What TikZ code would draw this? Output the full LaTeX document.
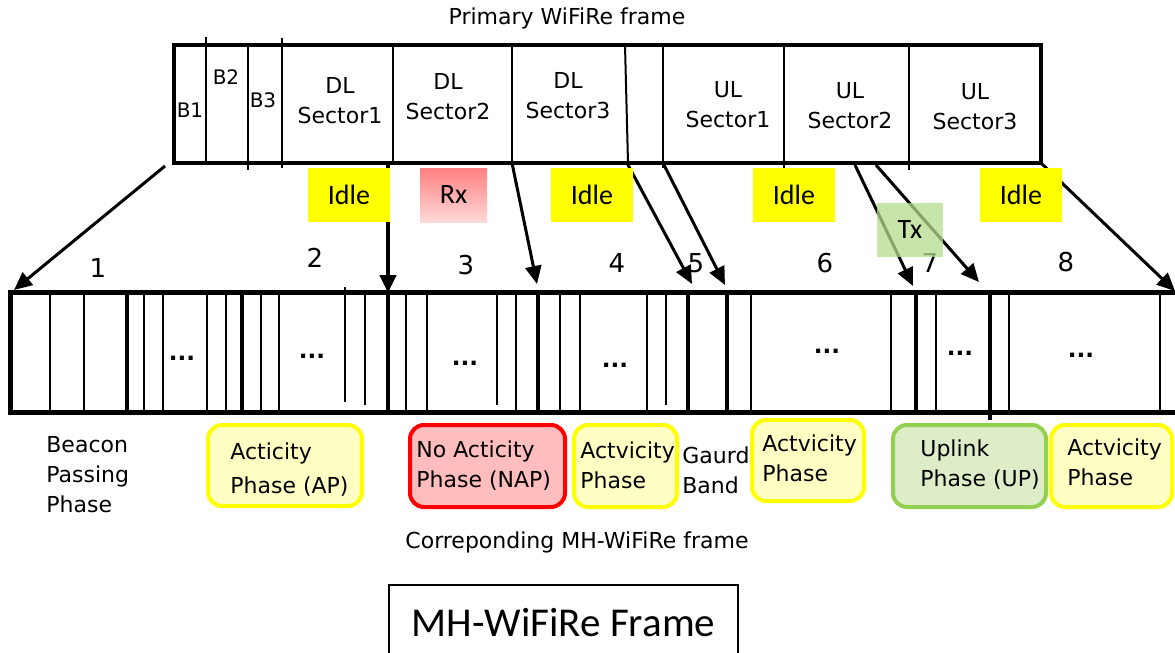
\documentclass[tikz,border=0pt]{standalone}
\usepackage{fontspec}
\setmainfont{DejaVu Sans}
\newfontfamily\carlito{Carlito}
\usetikzlibrary{arrows.meta}
\definecolor{idleyellow}{HTML}{FFFF00}
\definecolor{rxtop}{HTML}{FF8080}
\definecolor{rxbot}{HTML}{FFD8D8}
\definecolor{txgreen}{HTML}{B5DC8C}
\definecolor{upgreen}{HTML}{92D050}
\definecolor{apfill}{HTML}{FFFFC4}
\definecolor{napfill}{HTML}{FFBDBD}
\definecolor{upfill}{HTML}{DCEDC8}

\begin{document}
\begin{tikzpicture}[
  x=0.5pt, y=-0.5pt,
  txt/.style={font=\fontsize{11}{15}\selectfont, inner sep=0pt},
  sector/.style={txt, align=center},
  num/.style={font=\fontsize{13}{15}\selectfont, inner sep=0pt},
  dots/.style={font=\bfseries\fontsize{11.5}{13}\selectfont, inner sep=0pt},
  state/.style={minimum width=41pt, minimum height=27pt, inner sep=0pt,
    font=\carlito\fontsize{14}{16}\selectfont},
  idle/.style={state, fill=idleyellow},
  phase/.style={draw, line width=2pt, rounded corners=7pt, inner sep=0pt},
  phasetxt/.style={txt, align=left, anchor=west},
  arr/.style={-{Triangle[length=9pt,width=8pt]}, line width=1.5pt},
  thindiv/.style={line width=1pt},
  thickdiv/.style={line width=2.2pt}
]
  \useasboundingbox (0,0) rectangle (1175,653);

  % primary frame
  \node[txt] (title) at (567,18) {Primary WiFiRe frame};
  \draw[line width=2.2pt] (174,45) rectangle (1041,163);
  \foreach \x/\ya/\yb in {206/37/163, 248/45/170, 282/38/168, 393/45/165,
                          512/45/163, 663/45/168, 784/45/170, 909/45/170}
    \draw[thindiv] (\x,\ya) -- (\x,\yb);
  \draw[thindiv] (625,45) -- (628,163);

  \node[txt, font=\fontsize{10}{12}\selectfont] (b1) at (190,110) {B1};
  \node[txt, font=\fontsize{10}{12}\selectfont] (b2) at (226,77)  {B2};
  \node[txt, font=\fontsize{10}{12}\selectfont] (b3) at (263,100) {B3};
  \node[sector] (dl1) at (340,101) {DL\\Sector1};
  \node[sector] (dl2) at (448,97)  {DL\\Sector2};
  \node[sector] (dl3) at (568,96)  {DL\\Sector3};
  \node[sector] (ul1) at (728,105) {UL\\Sector1};
  \node[sector] (ul2) at (850,106) {UL\\Sector2};
  \node[sector] (ul3) at (975,107) {UL\\Sector3};

  % arrow ends
  \coordinate (s1) at (165,166);  \coordinate (e1) at (14,290);
  \coordinate (s2) at (388,163);  \coordinate (e2) at (388,293);
  \coordinate (s3) at (512,163);  \coordinate (e3) at (537,284);
  \coordinate (s4) at (627,163);  \coordinate (e4) at (692,284);
  \coordinate (s5) at (663,163);  \coordinate (e5) at (725,285);
  \coordinate (s6) at (855,165);  \coordinate (e6) at (913,286);
  \coordinate (s7) at (876,165);  \coordinate (e7) at (979,282);
  \coordinate (s8) at (1041,163); \coordinate (e8) at (1175,291);

  \draw[arr] (s1) -- (e1);
  \draw[arr, line width=2.2pt] (s2) -- (e2);
  \draw[arr] (s3) -- (e3);
  \draw[arr] (s4) -- (e4);
  \draw[arr] (s5) -- (e5);
  \draw[arr] (s6) -- (e6);
  \draw[arr] (s7) -- (e7);
  \draw[arr] (s8) -- (e8);

  % slot numbers
  \node[num] (n1) at (98,268)   {1};
  \node[num] (n2) at (315,258)  {2};
  \node[num] (n3) at (466,265)  {3};
  \node[num] (n4) at (617,263)  {4};
  \node[num] (n5) at (696,263)  {5};
  \node[num] (n6) at (825,263)  {6};
  \node[num] (n7) at (930,263)  {7};
  \node[num] (n8) at (1066,262) {8};

  % states
  \node[idle] (idle1) at (349,195)  {Idle};
  \node[state, minimum width=33.5pt, top color=rxtop, bottom color=rxbot]
    (rx) at (453.5,195) {Rx};
  \node[idle] (idle2) at (592,195)  {Idle};
  \node[idle] (idle3) at (794,195)  {Idle};
  \node[idle] (idle4) at (1021,195) {Idle};
  \node[state, minimum width=33pt, fill=txgreen, fill opacity=0.75,
    text opacity=1] (tx) at (910,229.5) {Tx};

  % MH-WiFiRe frame
  \draw[line width=2.5pt] (1175,292) -- (10,292) -- (10,412) -- (1175,412);
  \foreach \x in {50,84,144,163,207,226,261,279,406,427,516,560,580,
                  647,751,891,936,1009,1160}
    \draw[thindiv] (\x,292) -- (\x,412);
  \foreach \x/\ya/\yb in {345/287/402, 365/292/405, 497/292/405, 666/292/405}
    \draw[thindiv] (\x,\ya) -- (\x,\yb);
  \foreach \x in {127,242,388,538,688,727,916}
    \draw[thickdiv] (\x,292) -- (\x,412);
  \draw[thickdiv] (990,292) -- (990,420);

  \node[dots] (d1) at (182,358)  {...};
  \node[dots] (d2) at (312,356)  {...};
  \node[dots] (d3) at (465,363)  {...};
  \node[dots] (d4) at (615,365)  {...};
  \node[dots] (d5) at (827,351)  {...};
  \node[dots] (d6) at (960,353)  {...};
  \node[dots] (d7) at (1081,355) {...};

  % phases
  \node[phasetxt] (beacon) at (46,475) {Beacon\\Passing\\Phase};

  \node[phase, draw=idleyellow, fill=apfill, minimum width=77pt,
    minimum height=40.5pt] (ap) at (285,465.5) {};
  \node[phasetxt, font=\fontsize{11}{17}\selectfont] (aptxt) at (230,470)
    {Acticity\\Phase (AP)};

  \node[phase, draw=red, fill=napfill, minimum width=77.5pt,
    minimum height=41pt] (nap) at (487.5,466) {};
  \node[phasetxt] (naptxt) at (416,466) {No Acticity\\Phase (NAP)};

  \node[phase, draw=idleyellow, fill=apfill, minimum width=51.5pt,
    minimum height=41pt] (act1) at (625.5,466) {};
  \node[phasetxt] (act1txt) at (580,465) {Actvicity\\Phase};

  \node[phasetxt] (guard) at (682,470) {Gaurd\\Band};

  \node[phase, draw=idleyellow, fill=apfill, minimum width=56pt,
    minimum height=40.5pt] (act2) at (808,460.5) {};
  \node[phasetxt] (act2txt) at (762,458) {Actvicity\\Phase};

  \node[phase, draw=upgreen, fill=upfill, minimum width=76.5pt,
    minimum height=41pt] (up) at (969.5,466) {};
  \node[phasetxt] (uptxt) at (920,465) {Uplink\\Phase (UP)};

  \node[phase, draw=idleyellow, fill=apfill, minimum width=60.5pt,
    minimum height=41pt] (act3) at (1111.5,466) {};
  \node[phasetxt] (act3txt) at (1067,462) {Actvicity\\Phase};

  \node[txt] (corr) at (577,542) {Correponding MH-WiFiRe frame};

  \node[draw, line width=0.8pt, minimum width=174.5pt, minimum height=37.5pt,
    inner sep=0pt, font=\carlito\fontsize{20.5}{24}\selectfont]
    (mhframe) at (563.5,622.5) {MH-WiFiRe Frame};
\end{tikzpicture}
\end{document}
